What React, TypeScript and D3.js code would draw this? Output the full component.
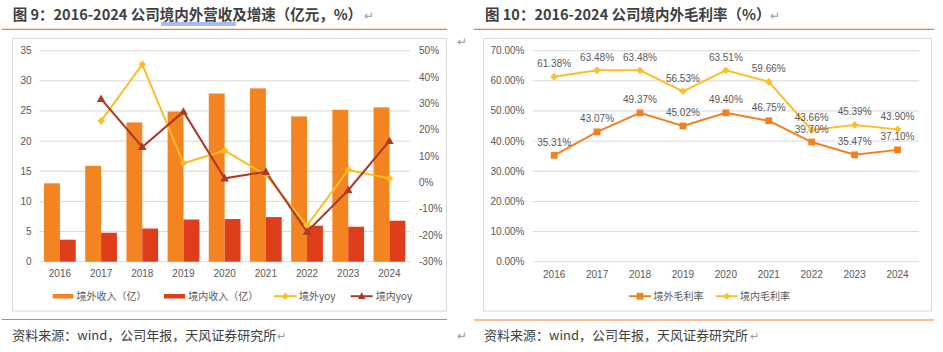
import React from 'react';
import * as d3 from 'd3';

const years = ['2016', '2017', '2018', '2019', '2020', '2021', '2022', '2023', '2024'];
const outerRevenue = [13.0, 15.9, 23.1, 24.9, 27.9, 28.75, 24.1, 25.2, 25.6];
const domesticRevenue = [3.65, 4.8, 5.5, 7.0, 7.08, 7.4, 5.97, 5.8, 6.8];
const outerYoy: (number | null)[] = [null, 23.4, 44.8, 7.3, 12.1, 2.9, -16.3, 4.8, 1.6];
const domesticYoy: (number | null)[] = [null, 31.7, 13.5, 26.9, 1.6, 4.1, -18.6, -2.9, 15.8];
const leftTicks = [0, 5, 10, 15, 20, 25, 30, 35];
const rightTicks = [-30, -20, -10, 0, 10, 20, 30, 40, 50];

const outerMargin = [35.31, 43.07, 49.37, 45.02, 49.4, 46.75, 39.7, 35.47, 37.1];
const domesticMargin = [61.38, 63.48, 63.48, 56.53, 63.51, 59.66, 43.66, 45.39, 43.9];
const marginTicks = [0, 10, 20, 30, 40, 50, 60, 70];

const C_ORANGE = '#F38421';
const C_RED = '#DE3E1C';
const C_YELLOW = '#FCBD22';
const C_DARKRED = '#A93A28';
const C_M_ORANGE = '#F2801F';
const C_M_YELLOW = '#FCBE28';
const GRID = '#D9D9D9';
const AXIS_TXT = '#595959';
const TITLE_TXT = '#404040';
const FONT = '"Liberation Sans", Arial, "Noto Sans CJK SC", sans-serif';
const CJK = '"Noto Sans CJK SC", "Liberation Sans", sans-serif';

const diamond = (cx: number, cy: number, r: number) =>
  `M${cx},${cy - r}L${cx + r},${cy}L${cx},${cy + r}L${cx - r},${cy}Z`;
const triangle = (cx: number, cy: number, r: number) =>
  `M${cx},${cy - r}L${cx + r * 0.95},${cy + r * 0.7}L${cx - r * 0.95},${cy + r * 0.7}Z`;

function LeftChart() {
  const x = d3.scaleBand<string>().domain(years).range([39.3, 410]).padding(0);
  const bw = x.bandwidth();
  const cx = (y: string) => (x(y) as number) + bw / 2;
  const yL = d3.scaleLinear().domain([0, 35]).range([261.7, 50.7]);
  const yR = d3.scaleLinear().domain([-30, 50]).range([261.7, 50.7]);
  const barW = bw * 0.385;

  const lineGen = d3
    .line<[string, number | null]>()
    .defined((d) => d[1] !== null)
    .x((d) => cx(d[0]))
    .y((d) => yR(d[1] as number));

  const outerPairs = years.map((y, i) => [y, outerYoy[i]] as [string, number | null]);
  const domPairs = years.map((y, i) => [y, domesticYoy[i]] as [string, number | null]);

  return (
    <g>
      <rect x={12.5} y={38.5} width={434} height={272.5} fill="#fff" stroke={GRID} strokeWidth={1} />
      {leftTicks.map((t) => (
        <g key={t}>
          <line x1={39.3} x2={410} y1={yL(t)} y2={yL(t)} stroke={GRID} strokeWidth={1} />
          <text x={31.5} y={yL(t) + 3.5} textAnchor="end" fontSize={10} fill={AXIS_TXT} fontFamily={FONT}>
            {t}
          </text>
        </g>
      ))}
      {rightTicks.map((t) => (
        <text key={t} x={419} y={yR(t) + 3.5} textAnchor="start" fontSize={10} fill={AXIS_TXT} fontFamily={FONT}>
          {t}%
        </text>
      ))}
      {years.map((y, i) => (
        <g key={y}>
          <rect x={cx(y) - barW} y={yL(outerRevenue[i])} width={barW} height={yL(0) - yL(outerRevenue[i])} fill={C_ORANGE} />
          <rect x={cx(y)} y={yL(domesticRevenue[i])} width={barW} height={yL(0) - yL(domesticRevenue[i])} fill={C_RED} />
          <text x={cx(y)} y={277} textAnchor="middle" fontSize={10} fill={AXIS_TXT} fontFamily={FONT}>
            {y}
          </text>
        </g>
      ))}
      <path d={lineGen(outerPairs) || ''} fill="none" stroke={C_YELLOW} strokeWidth={2} />
      <path d={lineGen(domPairs) || ''} fill="none" stroke={C_DARKRED} strokeWidth={2} />
      {outerPairs
        .filter((d) => d[1] !== null)
        .map((d) => (
          <path key={'o' + d[0]} d={diamond(cx(d[0]), yR(d[1] as number), 3.8)} fill={C_YELLOW} />
        ))}
      {domPairs
        .filter((d) => d[1] !== null)
        .map((d) => (
          <path key={'d' + d[0]} d={triangle(cx(d[0]), yR(d[1] as number), 4.5)} fill={C_DARKRED} />
        ))}
      {/* legend */}
      <g fontFamily={CJK} fontSize={10} fill={AXIS_TXT}>
        <rect x={52.7} y={294} width={20.6} height={4.5} fill={C_ORANGE} />
        <text x={76.5} y={299.5}>境外收入（亿）</text>
        <rect x={164} y={294} width={21} height={4.5} fill={C_RED} />
        <text x={188.3} y={299.5}>境内收入（亿）</text>
        <line x1={274} x2={296.7} y1={296.2} y2={296.2} stroke={C_YELLOW} strokeWidth={2} />
        <path d={diamond(285.3, 296.2, 3.5)} fill={C_YELLOW} />
        <text x={299} y={299.5}>境外yoy</text>
        <line x1={350.7} x2={372.7} y1={296.2} y2={296.2} stroke={C_DARKRED} strokeWidth={2} />
        <path d={triangle(361.7, 296.2, 4)} fill={C_DARKRED} />
        <text x={375.7} y={299.5}>境内yoy</text>
      </g>
    </g>
  );
}

function RightChart() {
  const x = d3.scaleBand<string>().domain(years).range([532.7, 919]).padding(0);
  const bw = x.bandwidth();
  const cx = (y: string) => (x(y) as number) + bw / 2;
  const y = d3.scaleLinear().domain([0, 70]).range([261.7, 50.7]);
  const line = d3
    .line<[string, number]>()
    .x((d) => cx(d[0]))
    .y((d) => y(d[1]));
  const outerPairs = years.map((yr, i) => [yr, outerMargin[i]] as [string, number]);
  const domPairs = years.map((yr, i) => [yr, domesticMargin[i]] as [string, number]);

  return (
    <g>
      <rect x={483.5} y={38.5} width={448} height={272.5} fill="#fff" stroke={GRID} strokeWidth={1} />
      {marginTicks.map((t) => (
        <g key={t}>
          <line x1={532.7} x2={919} y1={y(t)} y2={y(t)} stroke={GRID} strokeWidth={1} />
          <text x={524.5} y={y(t) + 3.5} textAnchor="end" fontSize={10} fill={AXIS_TXT} fontFamily={FONT}>
            {t.toFixed(2)}%
          </text>
        </g>
      ))}
      {years.map((yr) => (
        <text key={yr} x={cx(yr)} y={277.5} textAnchor="middle" fontSize={10} fill={AXIS_TXT} fontFamily={FONT}>
          {yr}
        </text>
      ))}
      <path d={line(outerPairs) || ''} fill="none" stroke={C_M_ORANGE} strokeWidth={2} />
      <path d={line(domPairs) || ''} fill="none" stroke={C_M_YELLOW} strokeWidth={2} />
      {outerPairs.map((d) => (
        <rect key={'os' + d[0]} x={cx(d[0]) - 3.4} y={y(d[1]) - 3.4} width={6.8} height={6.8} fill={C_M_ORANGE} />
      ))}
      {domPairs.map((d) => (
        <path key={'dd' + d[0]} d={diamond(cx(d[0]), y(d[1]), 3.8)} fill={C_M_YELLOW} />
      ))}
      {domPairs.map((d) => (
        <text key={'dl' + d[0]} x={cx(d[0])} y={y(d[1]) - 9.5} textAnchor="middle" fontSize={10} fill={AXIS_TXT} fontFamily={FONT}>
          {d[1].toFixed(2)}%
        </text>
      ))}
      {outerPairs.map((d) => (
        <text key={'ol' + d[0]} x={cx(d[0])} y={y(d[1]) - 9.5} textAnchor="middle" fontSize={10} fill={AXIS_TXT} fontFamily={FONT}>
          {d[1].toFixed(2)}%
        </text>
      ))}
      <g fontFamily={CJK} fontSize={10} fill={AXIS_TXT}>
        <line x1={629} x2={651} y1={296.2} y2={296.2} stroke={C_M_ORANGE} strokeWidth={2} />
        <rect x={636.6} y={292.8} width={6.8} height={6.8} fill={C_M_ORANGE} />
        <text x={653.5} y={299.5}>境外毛利率</text>
        <line x1={715.7} x2={737.7} y1={296.2} y2={296.2} stroke={C_M_YELLOW} strokeWidth={2} />
        <path d={diamond(726.7, 296.2, 3.5)} fill={C_M_YELLOW} />
        <text x={740} y={299.5}>境内毛利率</text>
      </g>
    </g>
  );
}

export default function App() {
  return (
    <svg
      width={943}
      height={352}
      viewBox="0 0 943 352"
      style={{ position: 'absolute', left: 0, top: 0, background: '#fff' }}
    >
      <rect x={0} y={0} width={943} height={352} fill="#fff" />
      {/* titles */}
      <text x={12.7} y={20} fontSize={14.5} fontWeight="bold" fill={TITLE_TXT} fontFamily={CJK}>
        图 9：2016-2024 公司境内外营收及增速（亿元，%）
      </text>
      <text x={364} y={20} fontSize={12} fill="#9a9a9a" fontFamily={CJK}>↵</text>
      <line x1={161} x2={236} y1={23} y2={23} stroke="#3B6BD6" strokeWidth={0.9} />
      <line x1={161} x2={236} y1={25} y2={25} stroke="#3B6BD6" strokeWidth={0.9} />
      <line x1={1.7} x2={447} y1={29.3} y2={29.3} stroke="#ED7D31" strokeWidth={1.2} />
      <text x={457} y={46} fontSize={12} fill="#9a9a9a" fontFamily={CJK}>↵</text>

      <text x={485} y={20} fontSize={14.5} fontWeight="bold" fill={TITLE_TXT} fontFamily={CJK}>
        图 10：2016-2024 公司境内外毛利率（%）
      </text>
      <text x={770} y={20} fontSize={12} fill="#9a9a9a" fontFamily={CJK}>↵</text>
      <line x1={474} x2={934} y1={29.3} y2={29.3} stroke="#ED7D31" strokeWidth={1.2} />

      <LeftChart />
      <RightChart />

      {/* bottom rules and sources */}
      <line x1={1.7} x2={447} y1={319.5} y2={319.5} stroke="#ED7D31" strokeWidth={1.2} />
      <line x1={474} x2={934} y1={320} y2={320} stroke="#ED7D31" strokeWidth={1.2} />
      <text x={12.3} y={339.5} fontSize={13} fill={TITLE_TXT} fontFamily={CJK}>
        资料来源：wind，公司年报，天风证券研究所
      </text>
      <text x={277} y={339.5} fontSize={11} fill="#9a9a9a" fontFamily={CJK}>↵</text>
      <text x={457} y={340} fontSize={12} fill="#9a9a9a" fontFamily={CJK}>↵</text>
      <text x={484} y={339.5} fontSize={13} fill={TITLE_TXT} fontFamily={CJK}>
        资料来源：wind，公司年报，天风证券研究所
      </text>
      <text x={750} y={339.5} fontSize={11} fill="#9a9a9a" fontFamily={CJK}>↵</text>
    </svg>
  );
}
